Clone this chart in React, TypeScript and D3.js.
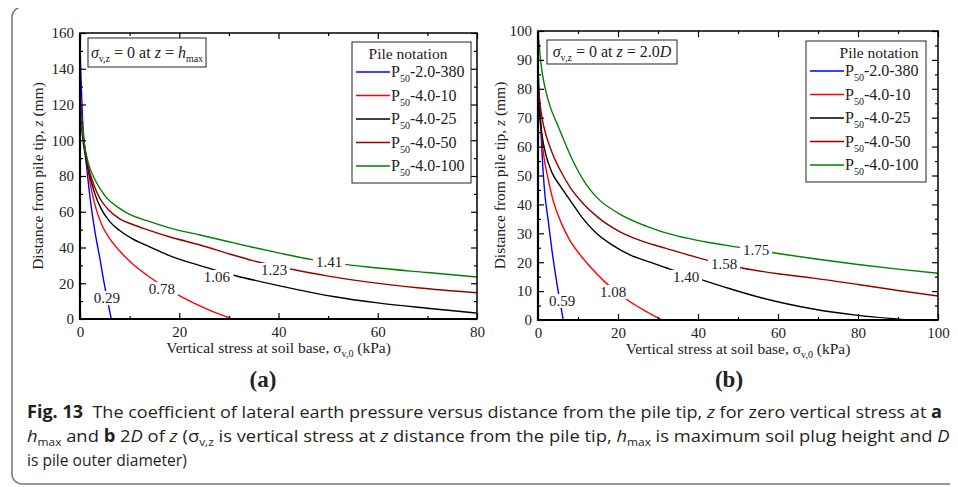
import React, { useEffect, useRef } from 'react';
import * as d3 from 'd3';

// legend / series
const legendSuffix = ['-2.0-380', '-4.0-10', '-4.0-25', '-4.0-50', '-4.0-100'];
const seriesColors = ['#0000ff', '#ff0000', '#000000', '#990000', '#008000'];

// panel (a): sigma_v,z = 0 at z = hmax   [stress kPa, z mm]
const blueA = [[0, 150], [0.2, 135], [0.5, 113], [0.8, 100], [1.3, 86], [1.8, 73], [2.3, 62], [3, 49], [4, 34], [4.8, 21], [5.5, 11], [6.3, 0]];
const redA = [[0, 129], [0.3, 115], [0.7, 102], [1.2, 91], [1.7, 82], [2.4, 71], [3.2, 62], [4.5, 52], [6, 45], [8, 38], [10.5, 31], [13.5, 24.5], [17, 18], [20.2, 12.8], [25.6, 5.5], [30.7, 0]];
const blackA = [[0, 118], [0.3, 108], [0.7, 98], [1.2, 90], [2, 80], [3, 70], [4.2, 62], [6, 54.5], [8, 49.5], [10.5, 45], [13.5, 41], [18, 35.5], [24, 30], [31, 24.5], [40, 18.7], [51, 12.6], [60, 9], [70, 6], [80, 3.3]];
const darkRedA = [[0, 125], [0.3, 112], [0.8, 99], [1.6, 86], [2.8, 75], [4, 67.5], [5.6, 61.5], [8, 56], [10.5, 53], [13.5, 50], [18, 46], [24.2, 41.4], [30, 36.5], [35, 32.5], [42.7, 27.8], [50, 24], [57.8, 20.8], [68, 17.5], [80, 14.7]];
const greenA = [[0, 121], [0.3, 110], [0.8, 99], [1.6, 88], [3, 78], [5, 69], [7.9, 62], [10, 58.5], [13.5, 55], [18, 51], [24.2, 47], [30, 43.2], [35, 40], [40, 37], [46.8, 33.2], [53.8, 30.4], [60, 28.5], [70, 26], [80, 23.5]];
const labelsA = [
  { text: '0.29', x: 5.44, z: 11.7 },
  { text: '0.78', x: 16.5, z: 16.8 },
  { text: '1.06', x: 27.6, z: 23.5 },
  { text: '1.23', x: 39.1, z: 27.4 },
  { text: '1.41', x: 50.2, z: 31.9 },
];

// panel (b): sigma_v,z = 0 at z = 2.0D
const blueB = [[0, 88], [0.3, 78], [0.7, 66], [1.2, 53], [1.75, 43], [2.5, 35], [3.5, 24], [4.8, 12], [6, 2.5], [6.3, 0]];
const redB = [[0, 83], [0.5, 72], [1.25, 59], [2.5, 49], [3.75, 41.5], [6, 33], [8, 27.5], [10, 23.5], [13, 18.5], [16.25, 13.8], [19, 10.5], [23, 6.3], [27, 3], [31, 0]];
const blackB = [[0, 78], [0.5, 70], [1, 64], [2, 57], [3.5, 51], [5.5, 46.5], [8, 41.5], [11, 35.5], [14.6, 30], [18.5, 26], [23, 22.5], [28, 20], [32.2, 18], [41.2, 13.8], [48, 10.8], [56, 7.6], [68.8, 3.8], [80, 1.6], [93, 0]];
const darkRedB = [[0, 82], [0.5, 75], [1, 70], [2, 64], [3.5, 58], [5.5, 52], [8, 46], [10.5, 41.5], [15, 35.5], [20.5, 30.5], [26, 27.3], [32, 24.8], [42, 20.8], [51, 18], [60, 16], [68.8, 14.5], [80, 12.3], [90, 10.2], [100, 8.3]];
const greenB = [[0, 100], [0.5, 92], [1, 86], [2, 79], [3, 74], [4.75, 68], [8.75, 55], [12, 47], [15, 42], [20, 37], [27, 32.5], [35, 29], [42, 27], [50, 25.2], [60, 23], [70, 21], [80, 19.2], [90, 17.6], [100, 16.2]];
const labelsB = [
  { text: '0.59', x: 6, z: 6.6 },
  { text: '1.08', x: 18.75, z: 9.7 },
  { text: '1.40', x: 37, z: 14.9 },
  { text: '1.58', x: 46.5, z: 19.4 },
  { text: '1.75', x: 54.5, z: 24.2 },
];

const xTicksA = [0, 20, 40, 60, 80];
const yTicksA = [0, 20, 40, 60, 80, 100, 120, 140, 160];
const xTicksB = [0, 20, 40, 60, 80, 100];
const yTicksB = [0, 10, 20, 30, 40, 50, 60, 70, 80, 90, 100];

const SERIF = '"Liberation Serif", "Times New Roman", serif';
const SANS = '"Open Sans", "Noto Sans", sans-serif';

type Part = { t: string; sub?: boolean; it?: boolean; b?: boolean };

function rich(sel: any, parts: Part[], subSize: number, shift = 4) {
  let down = false;
  parts.forEach(p => {
    const ts = sel.append('tspan').text(p.t);
    if (p.it) ts.attr('font-style', 'italic');
    if (p.b) ts.attr('font-weight', 'bold');
    if (p.sub) {
      ts.attr('font-size', subSize);
      if (!down) { ts.attr('dy', shift); down = true; }
    } else if (down) {
      ts.attr('dy', -shift);
      down = false;
    }
  });
}

const panels = [
  {
    left: 80, right: 477, top: 33, bottom: 319,
    xMax: 80, yMax: 160, xTicks: xTicksA, yTicks: yTicksA, xMinor: 10, yMinor: 10,
    series: [blueA, redA, blackA, darkRedA, greenA], labels: labelsA,
    box: { x: 88, y: 38, w: 118, h: 29 },
    boxText: [{ t: 'σ', it: true }, { t: 'v,z', sub: true }, { t: ' = 0 at ' }, { t: 'z', it: true }, { t: ' = ' }, { t: 'h', it: true }, { t: 'max', sub: true }],
    legend: { x: 352, y: 42, w: 119, h: 141, titleX: 408 },
    yTitleX: 43, tag: '(a)', tagX: 263,
  },
  {
    left: 538, right: 938, top: 31, bottom: 320,
    xMax: 100, yMax: 100, xTicks: xTicksB, yTicks: yTicksB, xMinor: 10, yMinor: 5,
    series: [blueB, redB, blackB, darkRedB, greenB], labels: labelsB,
    box: { x: 547, y: 40, w: 130, h: 24 },
    boxText: [{ t: 'σ', it: true }, { t: 'v,z', sub: true }, { t: ' = 0 at ' }, { t: 'z', it: true }, { t: ' = 2.0' }, { t: 'D', it: true }],
    legend: { x: 806, y: 41, w: 120, h: 141, titleX: 879 },
    yTitleX: 505, tag: '(b)', tagX: 729,
  },
];

const captionLines: Part[][] = [
  [{ t: 'Fig. 13', b: true }, { t: '\u00a0\u00a0The coefficient of lateral earth pressure versus distance from the pile tip, ' }, { t: 'z', it: true }, { t: ' for zero vertical stress at ' }, { t: 'a', b: true }],
  [{ t: 'h', it: true }, { t: 'max', sub: true }, { t: ' and ' }, { t: 'b', b: true }, { t: ' 2' }, { t: 'D', it: true }, { t: ' of ' }, { t: 'z', it: true }, { t: ' (σ' }, { t: 'v,z', sub: true }, { t: ' is vertical stress at ' }, { t: 'z', it: true }, { t: ' distance from the pile tip, ' }, { t: 'h', it: true }, { t: 'max', sub: true }, { t: ' is maximum soil plug height and ' }, { t: 'D', it: true }],
  [{ t: 'is pile outer diameter)' }],
];

const App = () => {
  const ref = useRef<SVGSVGElement>(null);

  useEffect(() => {
    const svg = d3.select(ref.current);
    svg.selectAll('*').remove();

    // outer frame
    svg.append('rect')
      .attr('x', 12).attr('y', 7).attr('width', 980).attr('height', 477)
      .attr('rx', 10).attr('fill', 'none').attr('stroke', '#777').attr('stroke-width', 1.5);

    panels.forEach((p, pi) => {
      const x = d3.scaleLinear().domain([0, p.xMax]).range([p.left, p.right]);
      const y = d3.scaleLinear().domain([0, p.yMax]).range([p.bottom, p.top]);
      const g = svg.append('g');
      const w = p.right - p.left;
      const h = p.bottom - p.top;

      const clipId = `clip${pi}`;
      svg.append('clipPath').attr('id', clipId)
        .append('rect').attr('x', p.left).attr('y', p.top - 1).attr('width', w).attr('height', h + 1);

      // curves
      const line = d3.line<number[]>().x(d => x(d[0])).y(d => y(d[1])).curve(d3.curveMonotoneX);
      const cg = g.append('g').attr('clip-path', `url(#${clipId})`);
      p.series.forEach((s, i) => {
        cg.append('path').attr('d', line(s)).attr('fill', 'none')
          .attr('stroke', seriesColors[i]).attr('stroke-width', 1.4);
      });

      // curve labels with white knock-out
      p.labels.forEach(l => {
        const t = g.append('text').attr('x', x(l.x)).attr('y', y(l.z) + 5)
          .attr('text-anchor', 'middle').attr('font-family', SERIF).attr('font-size', 15)
          .attr('fill', '#222').text(l.text);
        const bb = (t.node() as SVGTextElement).getBBox();
        g.insert('rect', () => t.node())
          .attr('x', bb.x - 3).attr('y', bb.y + 1).attr('width', bb.width + 6).attr('height', bb.height - 2)
          .attr('fill', '#fff');
      });

      // axes, ticks inward on all sides
      const minorX = d3.range(0, p.xMax + 0.001, p.xMinor).filter(v => !p.xTicks.includes(v));
      const minorY = d3.range(0, p.yMax + 0.001, p.yMinor).filter(v => !p.yTicks.includes(v));
      const style = (sel: any) => {
        sel.select('.domain').remove();
        sel.selectAll('line').attr('stroke', '#000').attr('stroke-width', 1.2);
        sel.selectAll('text').attr('font-family', SERIF).attr('font-size', 15).attr('fill', '#222');
      };
      g.append('g').attr('transform', `translate(0,${p.bottom})`)
        .call(d3.axisBottom(x).tickValues(p.xTicks).tickSize(-6).tickPadding(7).tickFormat(d3.format('d')))
        .call(style);
      g.append('g').attr('transform', `translate(0,${p.bottom})`)
        .call(d3.axisBottom(x).tickValues(minorX).tickSize(-3).tickFormat(() => ''))
        .call(style);
      g.append('g').attr('transform', `translate(0,${p.top})`)
        .call(d3.axisTop(x).tickValues(p.xTicks).tickSize(-6).tickFormat(() => ''))
        .call(style);
      g.append('g').attr('transform', `translate(0,${p.top})`)
        .call(d3.axisTop(x).tickValues(minorX).tickSize(-3).tickFormat(() => ''))
        .call(style);
      g.append('g').attr('transform', `translate(${p.left},0)`)
        .call(d3.axisLeft(y).tickValues(p.yTicks).tickSize(-6).tickPadding(6).tickFormat(d3.format('d')))
        .call(style);
      g.append('g').attr('transform', `translate(${p.left},0)`)
        .call(d3.axisLeft(y).tickValues(minorY).tickSize(-3).tickFormat(() => ''))
        .call(style);
      g.append('g').attr('transform', `translate(${p.right},0)`)
        .call(d3.axisRight(y).tickValues(p.yTicks).tickSize(-6).tickFormat(() => ''))
        .call(style);
      g.append('g').attr('transform', `translate(${p.right},0)`)
        .call(d3.axisRight(y).tickValues(minorY).tickSize(-3).tickFormat(() => ''))
        .call(style);

      g.append('rect').attr('x', p.left).attr('y', p.top).attr('width', w).attr('height', h)
        .attr('fill', 'none').attr('stroke', '#000').attr('stroke-width', 1.5);
      g.append('path').attr('d', `M${p.left},${p.top}V${p.bottom}H${p.right}`)
        .attr('fill', 'none').attr('stroke', '#000').attr('stroke-width', 2.2);

      // condition box
      g.append('rect').attr('x', p.box.x).attr('y', p.box.y).attr('width', p.box.w).attr('height', p.box.h)
        .attr('fill', '#fff').attr('stroke', '#222').attr('stroke-width', 1);
      const bt = g.append('text').attr('x', p.box.x + p.box.w / 2).attr('y', p.box.y + p.box.h / 2 + 5)
        .attr('text-anchor', 'middle').attr('font-family', SERIF).attr('font-size', 16).attr('fill', '#222');
      rich(bt, p.boxText, 10, 4);

      // legend
      const L = p.legend;
      g.append('rect').attr('x', L.x).attr('y', L.y).attr('width', L.w).attr('height', L.h)
        .attr('fill', '#fff').attr('stroke', '#222').attr('stroke-width', 1);
      g.append('text').attr('x', L.titleX).attr('y', L.y + 17).attr('text-anchor', 'middle')
        .attr('font-family', SERIF).attr('font-size', 15.5).attr('fill', '#222').text('Pile notation');
      legendSuffix.forEach((s, i) => {
        const ly = L.y + 30 + i * 23.5;
        g.append('line').attr('x1', L.x + 4).attr('x2', L.x + 38).attr('y1', ly).attr('y2', ly)
          .attr('stroke', seriesColors[i]).attr('stroke-width', 1.4);
        const tt = g.append('text').attr('x', L.x + 39).attr('y', ly + 5)
          .attr('font-family', SERIF).attr('font-size', 16).attr('fill', '#222');
        rich(tt, [{ t: 'P' }, { t: '50', sub: true }, { t: s }], 10, 5);
      });

      // axis titles
      const xt = g.append('text').attr('x', (p.left + p.right) / 2).attr('y', p.bottom + 34)
        .attr('text-anchor', 'middle').attr('font-family', SERIF).attr('font-size', 15.5).attr('fill', '#222');
      rich(xt, [{ t: 'Vertical stress at soil base, σ' }, { t: 'v,0', sub: true }, { t: ' (kPa)' }], 10, 4);
      const yt = g.append('text')
        .attr('transform', `translate(${p.yTitleX},${(p.top + p.bottom) / 2}) rotate(-90)`)
        .attr('text-anchor', 'middle').attr('font-family', SERIF).attr('font-size', 15.5).attr('fill', '#222');
      rich(yt, [{ t: 'Distance from pile tip, ' }, { t: 'z', it: true }, { t: ' (mm)' }], 10, 4);

      g.append('text').attr('x', p.tagX).attr('y', 387).attr('text-anchor', 'middle')
        .attr('font-family', SERIF).attr('font-size', 23).attr('font-weight', 'bold')
        .attr('fill', '#222').text(p.tag);
    });

    // caption, squeezed to the original line widths
    const baselines = [418, 442, 466];
    const targets = [916, 923, 160];
    captionLines.forEach((parts, i) => {
      const cg = svg.append('g');
      const t = cg.append('text').attr('x', 0).attr('y', 0)
        .attr('font-family', SANS).attr('font-size', 17).attr('fill', '#231f20');
      rich(t, parts, 11, 4);
      const len = (t.node() as SVGTextElement).getComputedTextLength();
      cg.attr('transform', `translate(27,${baselines[i]}) scale(${targets[i] / len},1)`);
    });
  }, []);

  return <svg ref={ref} width={958} height={487} style={{ display: 'block', margin: '-8px 0 0 -8px' }} />;
};

export default App;
